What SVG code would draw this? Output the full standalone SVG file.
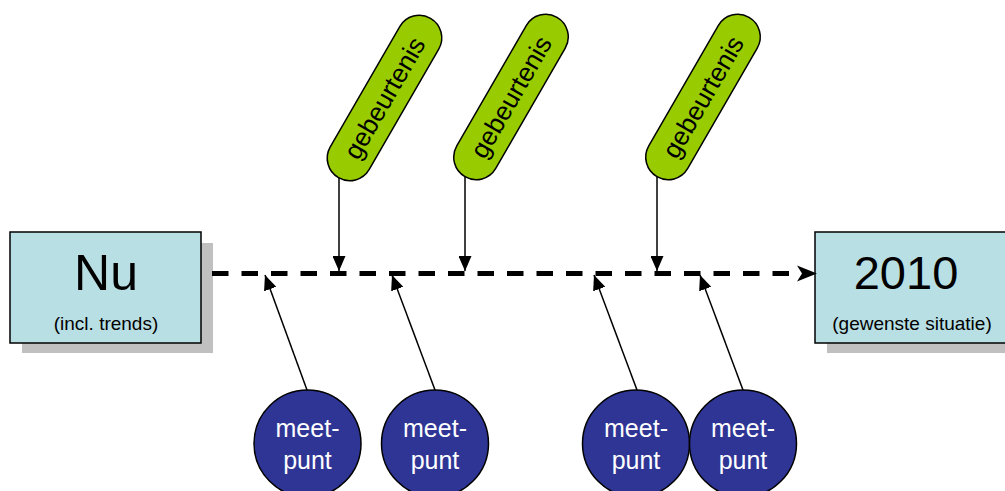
<svg xmlns="http://www.w3.org/2000/svg" width="1005" height="491" viewBox="0 0 1005 491">
<defs>
<marker id="tri" markerWidth="15" markerHeight="13" refX="15" refY="6.5" orient="auto" markerUnits="userSpaceOnUse">
<path d="M0,0 L15,6.5 L0,13 Z" fill="#000"/>
</marker>
<style>
.box{fill:#b8dfe4;stroke:#000;stroke-width:1.5}
.shadow{fill:#c0c0c0}
.pill{fill:#99cc00;stroke:#000;stroke-width:1.5}
.dot{fill:#2e3595;stroke:#000;stroke-width:1.5}
.big{font-family:"Liberation Sans",Arial,sans-serif;font-size:50px;fill:#000;text-anchor:middle}
.small{font-family:"Liberation Sans",Arial,sans-serif;font-size:19px;fill:#000;text-anchor:middle}
.pt{font-family:"Liberation Sans",Arial,sans-serif;font-size:26px;fill:#000;text-anchor:middle;dominant-baseline:central}
.ct{font-family:"Liberation Sans",Arial,sans-serif;font-size:25px;fill:#fff;text-anchor:middle}
.con{stroke:#000;stroke-width:1.5;fill:none;marker-end:url(#tri)}
</style>
</defs>
<rect width="1005" height="491" fill="#fff"/>
<g id="node-nu">
<rect class="shadow" x="22" y="243" width="191" height="110"/>
<rect class="box" x="10" y="232" width="191" height="111"/>
<text class="big" x="106" y="290">Nu</text>
<text class="small" x="106" y="330">(incl. trends)</text>
</g>
<g id="node-2010">
<rect class="shadow" x="827" y="243" width="191" height="110"/>
<rect class="box" x="815" y="232" width="191" height="111"/>
<text class="big" x="906" y="289" style="font-size:47px">2010</text>
<text class="small" x="912" y="330">(gewenste situatie)</text>
</g>
<g id="timeline">
<line x1="212" y1="273.5" x2="800" y2="273.5" stroke="#000" stroke-width="5" stroke-dasharray="16.5 13"/>
<path d="M797,265.5 L817,273.5 L797,281.5 L802,273.5 Z" fill="#000"/>
</g>
<g id="event-1">
<rect class="pill" x="-92" y="-22.5" width="184" height="45" rx="22.5" transform="translate(384.5,98) rotate(-60)"/>
<text class="pt" transform="translate(384.5,98) rotate(-60)">gebeurtenis</text>
</g>
<g id="event-2">
<rect class="pill" x="-92" y="-22.5" width="184" height="45" rx="22.5" transform="translate(511,97) rotate(-60)"/>
<text class="pt" transform="translate(511,97) rotate(-60)">gebeurtenis</text>
</g>
<g id="event-3">
<rect class="pill" x="-92" y="-22.5" width="184" height="45" rx="22.5" transform="translate(703,97) rotate(-60)"/>
<text class="pt" transform="translate(703,97) rotate(-60)">gebeurtenis</text>
</g>
<g id="meetpunt-1">
<circle class="dot" cx="307.5" cy="443.5" r="53.5"/>
<text class="ct" x="307.5" y="437">meet-</text>
<text class="ct" x="307.5" y="469">punt</text>
</g>
<g id="meetpunt-2">
<circle class="dot" cx="435" cy="443.5" r="53.5"/>
<text class="ct" x="435" y="437">meet-</text>
<text class="ct" x="435" y="469">punt</text>
</g>
<g id="meetpunt-3">
<circle class="dot" cx="636" cy="443.5" r="53.5"/>
<text class="ct" x="636" y="437">meet-</text>
<text class="ct" x="636" y="469">punt</text>
</g>
<g id="meetpunt-4">
<circle class="dot" cx="743" cy="443.5" r="53.5"/>
<text class="ct" x="743" y="437">meet-</text>
<text class="ct" x="743" y="469">punt</text>
</g>
<g id="connectors">
<line class="con" x1="339" y1="178" x2="339" y2="271"/>
<line class="con" x1="465" y1="176" x2="465" y2="271"/>
<line class="con" x1="657" y1="177" x2="657" y2="271"/>
<line class="con" x1="307" y1="390" x2="265" y2="275"/>
<line class="con" x1="435" y1="390" x2="392" y2="275"/>
<line class="con" x1="637" y1="390" x2="594" y2="275"/>
<line class="con" x1="743" y1="390" x2="700" y2="275"/>
</g>
</svg>
